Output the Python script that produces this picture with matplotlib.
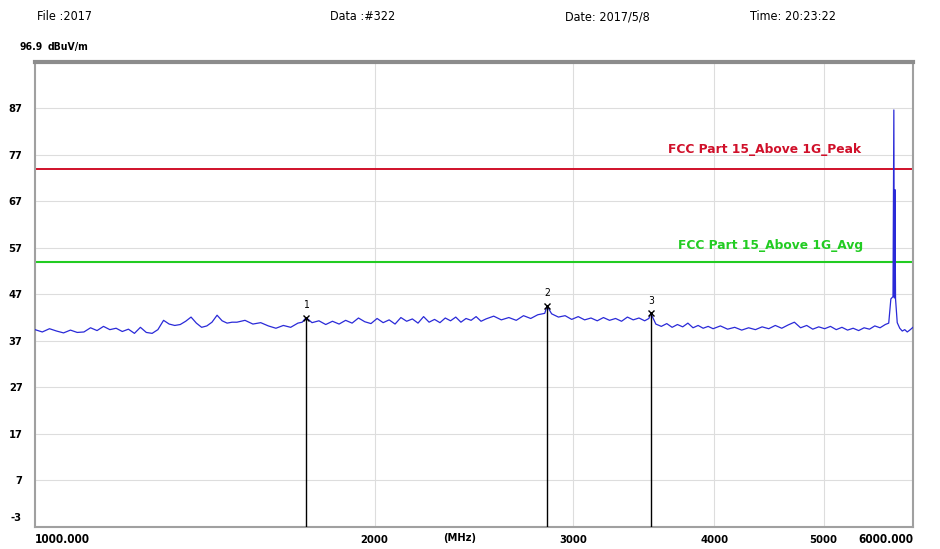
import matplotlib
matplotlib.use("Agg")
import matplotlib.pyplot as plt

plt.rcParams['font.family'] = ['DejaVu Sans']
plt.rcParams['font.stretch'] = 'condensed'

# header info
file_name = "File :2017"
data_no = "Data :#322"
date_str = "Date: 2017/5/8"
time_str = "Time: 20:23:22"

# axis setup
y_top = 96.9
y_bottom = -3
y_ticks = [87, 77, 67, 57, 47, 37, 27, 17, 7]
x_ticks = [2000, 3000, 4000, 5000]
x_min, x_max = 1000, 6000

# limit lines (dBuV/m)
peak_limit = 74
avg_limit = 54
peak_label = "FCC Part 15_Above 1G_Peak"
avg_label = "FCC Part 15_Above 1G_Avg"

freq_mhz = [
    1000, 1015, 1030, 1045, 1060, 1075, 1090, 1105, 1120, 1135, 1150, 1165,
    1180, 1195, 1210, 1225, 1240, 1255, 1270, 1285, 1300, 1315, 1330, 1345,
    1360, 1375, 1390, 1405, 1420, 1435, 1450, 1465, 1480, 1495,
    1510, 1535, 1560, 1585, 1610, 1635, 1660, 1685, 1710, 1725, 1739, 1760,
    1785, 1810, 1835, 1860, 1885, 1910, 1935, 1960, 1985, 2010, 2035, 2060,
    2085, 2110, 2135, 2160, 2185, 2210, 2235, 2260, 2285, 2310, 2335, 2360,
    2385, 2410, 2435, 2460, 2485,
    2510, 2550, 2590, 2630, 2670, 2710, 2750, 2790, 2830, 2843, 2870, 2910,
    2950, 2990, 3030, 3070, 3110, 3150, 3190, 3230, 3270, 3310, 3350, 3390,
    3430, 3470, 3500, 3514, 3550, 3590, 3630, 3670, 3710, 3750, 3790, 3830,
    3870, 3910, 3950, 3990,
    4050, 4110, 4170, 4230, 4290, 4350, 4410, 4470, 4530, 4590, 4650, 4710,
    4770, 4830, 4890, 4950, 5010, 5070, 5130, 5190, 5250, 5310, 5370, 5430,
    5490, 5550, 5610, 5670,
    5710, 5735, 5760, 5770, 5776, 5782, 5790, 5810, 5840, 5870, 5900, 5930,
    5960, 6000,
]
level_dbuv = [
    39.4, 38.9, 39.6, 39.1, 38.7, 39.3, 38.8, 38.9, 39.8, 39.2, 40.1, 39.4,
    39.7, 39.0, 39.5, 38.6, 39.9, 38.8, 38.6, 39.4, 41.4, 40.6, 40.3, 40.5,
    41.2, 42.1, 40.8, 39.9, 40.2, 41.0, 42.5, 41.3, 40.8, 41.0,
    41.0, 41.4, 40.6, 40.9, 40.2, 39.7, 40.3, 39.9, 40.8, 41.0, 42.0, 40.9,
    41.3, 40.5, 41.2, 40.6, 41.4, 40.8, 41.9, 41.1, 40.7, 41.8, 40.9, 41.5,
    40.6, 42.0, 41.2, 41.7, 40.8, 42.2, 41.0, 41.6, 40.9, 41.9, 41.3, 42.1,
    41.0, 41.8, 41.4, 42.2, 41.2,
    41.7, 42.3, 41.5, 42.0, 41.4, 42.4, 41.8, 42.6, 42.9, 44.5, 42.8, 42.1,
    42.4, 41.6, 42.2, 41.5, 41.9, 41.3, 42.0, 41.4, 41.8, 41.2, 42.1, 41.5,
    41.9, 41.3, 41.8, 42.9, 40.6, 40.1, 40.7, 39.9, 40.5, 40.0, 40.8, 39.8,
    40.3, 39.7, 40.1, 39.6,
    40.2, 39.5, 39.9, 39.3, 39.8, 39.4, 40.0, 39.6, 40.3, 39.7, 40.4, 41.0,
    39.8, 40.3, 39.5, 40.0, 39.6, 40.1, 39.4, 39.9, 39.3, 39.7, 39.2, 39.8,
    39.5, 40.2, 39.8, 40.5,
    40.8, 46.0, 46.5, 86.6, 46.2, 69.5, 46.0, 40.9, 39.7, 39.1, 39.4, 38.9,
    39.3, 39.9,
]

# markers
marker_no = ["1", "2", "3"]
marker_freq = [1739, 2843, 3514]
marker_level = [42.0, 44.5, 42.9]

fig = plt.figure(figsize=(9.4, 5.49), dpi=100)
ax = fig.add_axes([35 / 940, 1 - 527 / 549, 878 / 940, 465 / 549])

ax.set_xscale('log')
ax.set_xlim(x_min, x_max)
ax.set_ylim(y_bottom, y_top)

# grid
for y in y_ticks:
    ax.axhline(y, color='#dddddd', lw=0.8, zorder=0)
for x in x_ticks:
    ax.axvline(x, color='#dddddd', lw=0.8, zorder=0)

# limit lines
ax.axhline(peak_limit, color='#d0102a', lw=1.4, zorder=2)
ax.axhline(avg_limit, color='#22cc22', lw=1.5, zorder=2)
ax.text(5400, 78.0, peak_label, color='#d0102a', fontsize=8.8, fontweight='bold',
        fontstretch='normal', ha='right', va='center')
ax.text(5420, 57.5, avg_label, color='#22cc22', fontsize=8.8, fontweight='bold',
        fontstretch='normal', ha='right', va='center')

# trace
ax.plot(freq_mhz, level_dbuv, color='#2a2ad8', lw=0.9, zorder=3)

# markers
for no, f, lv in zip(marker_no, marker_freq, marker_level):
    ax.plot([f, f], [y_bottom, lv], color='black', lw=1.0, zorder=4)
    ax.plot(f, lv, marker='x', color='black', ms=5, mew=1.0, zorder=5)
    ax.text(f, lv + 1.6, no, fontsize=7.5, ha='center', va='bottom',
            color='black')

# frame
for side in ['left', 'right', 'bottom']:
    ax.spines[side].set_color('#a0a0a0')
    ax.spines[side].set_linewidth(1.5)
ax.spines['top'].set_color('#8c8c8c')
ax.spines['top'].set_linewidth(3)

# ticks
ax.tick_params(length=0)
ax.set_yticks(y_ticks)
ax.set_yticklabels([str(y) for y in y_ticks], fontsize=8, fontweight='bold')
ax.tick_params(axis='y', pad=9)
ax.set_xticks(x_ticks)
ax.set_xticklabels([str(x) for x in x_ticks], fontsize=8, fontweight='bold')
ax.xaxis.set_minor_locator(matplotlib.ticker.NullLocator())
ax.tick_params(axis='x', pad=6)

ytrans = ax.get_yaxis_transform()
xtrans = ax.get_xaxis_transform()
ax.text(-0.0155, y_bottom + 0.8, str(y_bottom), transform=ytrans, fontsize=8,
        fontweight='bold', ha='right', va='bottom')
ax.text(x_min, -0.012, "1000.000", transform=xtrans, fontsize=8.5,
        fontweight='bold', ha='left', va='top')
ax.text(x_max, -0.012, "6000.000", transform=xtrans, fontsize=8.5,
        fontweight='bold', ha='right', va='top')
ax.text(2380, -0.012, "(MHz)", transform=xtrans, fontsize=8,
        fontweight='bold', ha='center', va='top')

# header
fig.text(37 / 940, 1 - 17 / 549, file_name, fontsize=9, va='center')
fig.text(330 / 940, 1 - 17 / 549, data_no, fontsize=9, va='center')
fig.text(565 / 940, 1 - 17 / 549, date_str, fontsize=9, va='center')
fig.text(750 / 940, 1 - 17 / 549, time_str, fontsize=9, va='center')
fig.text(20 / 940, 1 - 47 / 549, "96.9", fontsize=7.5, fontweight='bold',
         va='center')
fig.text(48 / 940, 1 - 47 / 549, "dBuV/m", fontsize=7.5, fontweight='bold',
         va='center')

fig.savefig('out.png', dpi=100)
